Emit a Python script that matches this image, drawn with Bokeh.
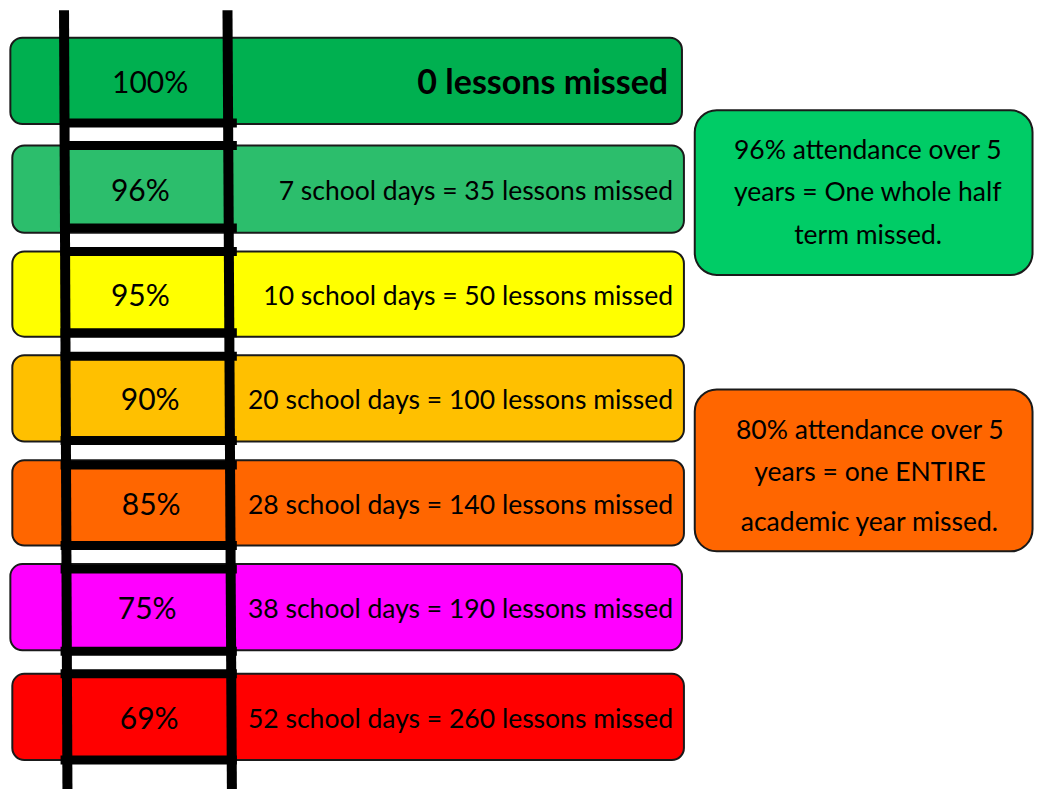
from bokeh.plotting import figure
from bokeh.models import Range1d, ColumnDataSource
from bokeh.core.properties import value
from bokeh.embed import file_html
from bokeh.resources import INLINE

# ---- data ----
pct_labels = ["100%", "96%", "95%", "90%", "85%", "75%", "69%"]
days_missed = [0, 7, 10, 20, 28, 38, 52]
lessons_missed = [0, 35, 50, 100, 140, 190, 260]
bar_colors = ["#00B050", "#2CBE6C", "#FFFF00", "#FFC000", "#FF6600", "#FF00FF", "#FF0000"]

note_lines_1 = ["96% attendance over 5", "years = One whole half", "term missed."]
note_lines_2 = ["80% attendance over 5", "years = one ENTIRE", "academic year missed."]
note_colors = ["#00CC66", "#FF6600"]

descriptions = ["0 lessons missed"] + [
    f"{d} school days = {l} lessons missed" for d, l in zip(days_missed[1:], lessons_missed[1:])
]

# ---- layout (pixel coordinates of the 1050x805 canvas) ----
bar_left = [10, 12, 12, 12, 12, 10, 12]
bar_right = [692, 694, 694, 694, 694, 692, 694]
bar_top = [38, 148, 256, 362, 469, 575, 687]
bar_bottom = [126, 237, 343, 450, 556, 663, 775]
pct_x = [152, 142, 142, 152, 153, 149, 151]
text_right = [678, 683, 683, 683, 683, 683, 683]
rung_y = [125, 148, 232, 256, 339, 363, 449, 474, 556, 580, 664, 687, 775]

W, H = 1034, 789
p = figure(width=W, height=H, x_range=Range1d(0, 1050), y_range=Range1d(805, 0),
           output_backend="svg", toolbar_location=None, min_border=0)
p.axis.visible = False
p.grid.visible = False
p.outline_line_color = None
p.background_fill_color = "white"

mid_y = [(t + b) / 2 for t, b in zip(bar_top, bar_bottom)]
bars = ColumnDataSource(dict(left=bar_left, right=bar_right, top=bar_top, bottom=bar_bottom,
                             color=bar_colors, pct=pct_labels, px=pct_x, my=mid_y,
                             desc=descriptions, tr=text_right))
p.quad(left="left", right="right", top="top", bottom="bottom", source=bars,
       fill_color="color", line_color="#1a1a1a", line_width=2, border_radius=12)

# notes boxes
p.quad(left=[705, 705], right=[1048, 1048], top=[112, 397], bottom=[280, 562],
       fill_color=note_colors, line_color="#1a1a1a", line_width=2, border_radius=22)

# ladder rails
p.segment(x0=[64.5, 230.5], y0=[10, 10], x1=[68, 235], y1=[810, 810],
          line_color="black", line_width=10, line_cap="butt")
# rungs
p.segment(x0=[61] * len(rung_y), y0=rung_y, x1=[240] * len(rung_y), y1=rung_y,
          line_color="black", line_width=9, line_cap="butt")

FONT = value("Lato")
# percent labels
p.text(x="px", y="my", text="pct", source=bars, text_align="center", text_baseline="middle",
       text_font=FONT, text_font_size="30px", text_color="black")

# descriptions
first = ColumnDataSource(dict(x=[text_right[0]], y=[mid_y[0]], t=[descriptions[0]]))
p.text(x="x", y="y", text="t", source=first, text_align="right", text_baseline="middle",
       text_font=FONT, text_font_size="34px", text_font_style="bold", text_color="black")
rest = ColumnDataSource(dict(x=text_right[1:], y=[m + 1 for m in mid_y[1:]], t=descriptions[1:]))
p.text(x="x", y="y", text="t", source=rest, text_align="right", text_baseline="middle",
       text_font=FONT, text_font_size="26.5px", text_color="black")

# note texts
p.text(x=[881] * 3, y=[152, 194, 238], text=note_lines_1, text_align="center",
       text_baseline="middle", text_font=FONT, text_font_size="26.5px", text_color="black")
p.text(x=[883] * 3, y=[437, 480, 531], text=note_lines_2, text_align="center",
       text_baseline="middle", text_font=FONT, text_font_size="26.5px", text_color="black")

open("out.html", "w").write(file_html(p, INLINE))
